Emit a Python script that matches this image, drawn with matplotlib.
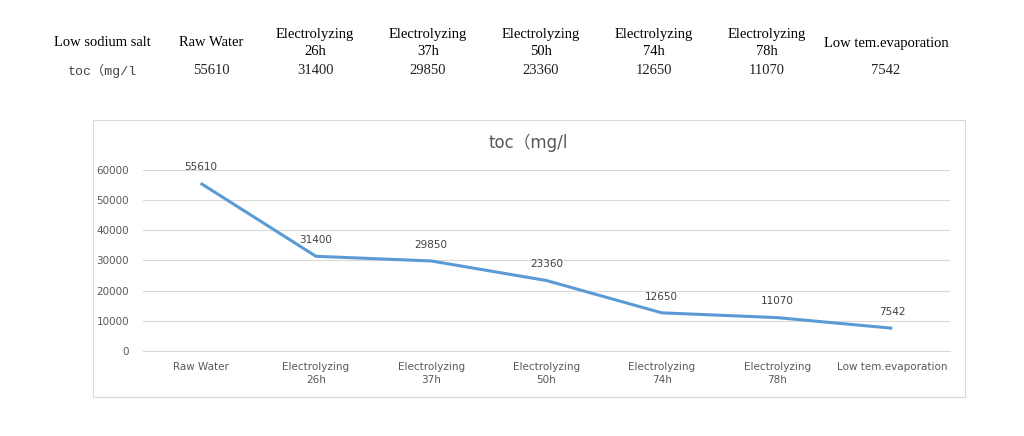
import matplotlib.pyplot as plt
from matplotlib.patches import Rectangle

# table / chart data
header = ["Low sodium salt", "Raw Water", "Electrolyzing\n26h", "Electrolyzing\n37h",
          "Electrolyzing\n50h", "Electrolyzing\n74h", "Electrolyzing\n78h",
          "Low tem.evaporation"]
row_label = "toc（mg/l"
categories = header[1:]
toc = [55610, 31400, 29850, 23360, 12650, 11070, 7542]

W, H = 1024, 436
fig = plt.figure(figsize=(W / 100, H / 100), dpi=100)

# table at top
col_x = [102, 211, 315, 428, 541, 654, 767, 886]
serif = ["Liberation Serif", "DejaVu Serif"]
for x, h in zip(col_x, header):
    fig.text(x / W, 1 - 43 / H, h, ha="center", va="center", family=serif,
             fontsize=10.5, linespacing=1.4)
fig.text(col_x[0] / W, 1 - 71 / H, row_label, ha="center", va="center",
         family=["Liberation Mono", "Noto Sans CJK SC"], fontsize=9.5, color="#444444")
for x, v in zip(col_x[1:], toc):
    fig.text(x / W, 1 - 71 / H, str(v), ha="center", va="center", family=serif,
             fontsize=10.5, color="#222222")

# chart frame
fig.patches.append(Rectangle((93 / W, 1 - 397 / H), (965 - 93) / W, (397 - 120) / H,
                             transform=fig.transFigure, fill=False,
                             edgecolor="#D9D9D9", linewidth=0.8))

ax = fig.add_axes([143 / W, 1 - 351 / H, (950 - 143) / W, (351 - 170) / H])
x = range(len(categories))
ax.plot(x, toc, color="#5B9BD5", linewidth=2.2, solid_capstyle="butt")
for i, v in zip(x, toc):
    ax.annotate(str(v), (i, v), xytext=(0, 8), textcoords="offset points",
                ha="center", va="bottom", fontsize=7.5, color="#404040")

ax.set_xlim(-0.5, len(categories) - 0.5)
ax.set_ylim(0, 60000)
ax.set_yticks(range(0, 60001, 10000))
ax.set_xticks(list(x))
ax.set_xticklabels(categories, fontsize=7.5, color="#595959", linespacing=1.3)
ax.tick_params(axis="y", labelsize=7.5, labelcolor="#595959", length=0, pad=10)
ax.tick_params(axis="x", length=0, pad=8)
ax.grid(axis="y", color="#D9D9D9", linewidth=0.8)
ax.axhline(0, color="#D9D9D9", linewidth=0.8, clip_on=False, zorder=0)
ax.set_axisbelow(True)
for s in ax.spines.values():
    s.set_visible(False)

fig.text(528 / W, 1 - 143 / H, "toc（mg/l", ha="center", va="center",
         family=["DejaVu Sans", "Noto Sans CJK SC"], fontsize=12, color="#595959")

fig.savefig("out.png", dpi=100)
